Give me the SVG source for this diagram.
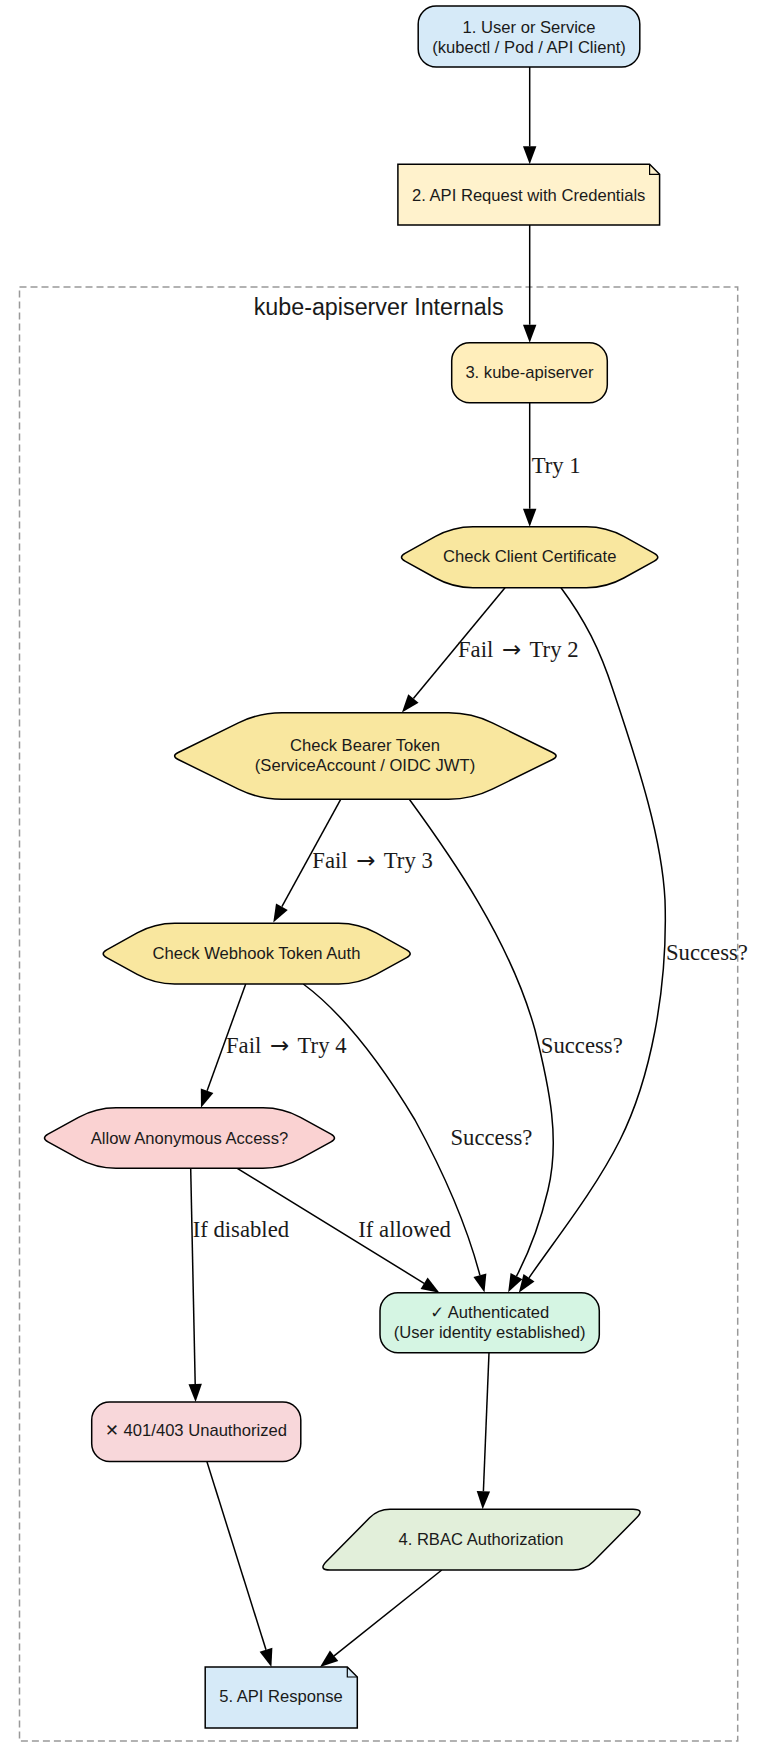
<svg xmlns="http://www.w3.org/2000/svg" width="758" height="1761" viewBox="0 0 758 1761">
<defs>
<marker id="ah" markerUnits="userSpaceOnUse" markerWidth="20" markerHeight="14" refX="0" refY="6.7" orient="auto" overflow="visible">
<path d="M0,0 L18,6.7 L0,13.4 Z" fill="#000"/>
</marker>
</defs>
<style>
.n{stroke:#000;stroke-width:1.5}
.t{font-family:"Liberation Sans","DejaVu Sans",Arial,sans-serif;font-size:16.6px;fill:#1a1a1a;text-anchor:middle}
.e{fill:none;stroke:#000;stroke-width:1.5;marker-end:url(#ah)}
.l{font-family:"Liberation Serif","DejaVu Serif","Times New Roman",serif;font-size:22.7px;fill:#1a1a1a}
.a{font-family:"DejaVu Sans",sans-serif;font-size:23px}
.c{fill:none;stroke:#999;stroke-width:1.5;stroke-dasharray:7,4}
</style>
<rect width="758" height="1761" fill="#fff"/>
<g id="cluster">
<rect class="c" x="19.5" y="287" width="718.2" height="1454"/>
<text x="378.6" y="315" style="font-family:'Liberation Sans','DejaVu Sans',Arial,sans-serif;font-size:23.3px;fill:#1a1a1a;text-anchor:middle">kube-apiserver Internals</text>
</g>
<g id="edges">
<path class="e" d="M529.7,67 L529.7,146.3"/>
<path class="e" d="M529.7,225 L529.7,324.7"/>
<path class="e" d="M529.7,402.7 L529.7,508.7"/>
<path class="e" d="M505,587.7 L413.4,698.6"/>
<path class="e" d="M340.7,799.3 L281.9,906.7"/>
<path class="e" d="M245.7,984 L207.1,1090.8"/>
<path class="e" d="M190.7,1168.3 L195.2,1384"/>
<path class="e" d="M237.3,1168.3 L424.1,1283.3"/>
<path class="e" d="M303.3,984 C345,1015 385,1070 415,1120 C445,1175 468,1230 479.9,1275.2"/>
<path class="e" d="M409.3,799.3 C450,855 510,940 535,1030 C550,1090 560,1140 548,1190 C538,1232 526,1258 516.5,1276.2"/>
<path class="e" d="M561,587.7 C585,620 600,650 613,690 C640,770 662,840 665,900 C668,990 650,1080 620,1140 C595,1190 555,1240 529,1277.8"/>
<path class="e" d="M489,1352.7 L483.4,1491.3"/>
<path class="e" d="M206.7,1461 L266,1649.8"/>
<path class="e" d="M441.8,1570 L334.1,1655.8"/>
<text class="l" x="531.7" y="472.7">Try 1</text>
<text class="l" x="458" y="657.3">Fail <tspan class="a" dx="3">→</tspan><tspan dx="3"> Try 2</tspan></text>
<text class="l" x="312.3" y="868.3">Fail <tspan class="a" dx="3">→</tspan><tspan dx="3"> Try 3</tspan></text>
<text class="l" x="226" y="1052.7">Fail <tspan class="a" dx="3">→</tspan><tspan dx="3"> Try 4</tspan></text>
<text class="l" x="192.7" y="1236.7">If disabled</text>
<text class="l" x="358.3" y="1236.7">If allowed</text>
<text class="l" x="450.5" y="1145">Success?</text>
<text class="l" x="540.8" y="1053">Success?</text>
<text class="l" x="666" y="960">Success?</text>
</g>
<g id="n1">
<rect class="n" x="418.2" y="6" width="221.6" height="61" rx="18" fill="#d6eaf8"/>
<text class="t" x="529" y="32.7">1. User or Service</text>
<text class="t" x="529" y="52.5">(kubectl / Pod / API Client)</text>
</g>
<g id="n2">
<path class="n" d="M397.9,164.3 H649.6 L659.6,174.3 V225 H397.9 Z" fill="#fff2cc"/>
<path d="M649.6,164.3 V174.3 H659.6" fill="none" stroke="#000" stroke-width="1.2"/>
<text class="t" x="528.7" y="200.5">2. API Request with Credentials</text>
</g>
<g id="n3">
<rect class="n" x="451.7" y="342.7" width="155.6" height="60" rx="18" fill="#ffeebb"/>
<text class="t" x="529.5" y="378.3">3. kube-apiserver</text>
</g>
<g id="client">
<path class="n" fill="#f9e79f" d="M405,553.3 L435.5,536.4 Q453,526.7 473,526.7 L586.3,526.7 Q606.3,526.7 623.8,536.4 L654.3,553.3 Q661.3,557.2 654.3,561.1 L623.8,578 Q606.3,587.7 586.3,587.7 L473,587.7 Q453,587.7 435.5,578 L405,561.1 Q398,557.2 405,553.3 Z"/>
<text class="t" x="529.7" y="561.7">Check Client Certificate</text>
</g>
<g id="bearer">
<path class="n" fill="#f9e79f" d="M178.2,752.5 L238.4,722.8 Q259,712.7 282,712.7 L448.7,712.7 Q471.7,712.7 492.3,722.8 L552.5,752.5 Q559.7,756 552.5,759.5 L492.3,789.2 Q471.7,799.3 448.7,799.3 L282,799.3 Q259,799.3 238.4,789.2 L178.2,759.5 Q171,756 178.2,752.5 Z"/>
<text class="t" x="365" y="751">Check Bearer Token</text>
<text class="t" x="365" y="771">(ServiceAccount / OIDC JWT)</text>
</g>
<g id="webhook">
<path class="n" fill="#f9e79f" d="M106.7,949.8 L137.2,932.9 Q154.7,923.3 174.7,923.3 L338.7,923.3 Q358.7,923.3 376.2,932.9 L406.7,949.8 Q413.7,953.7 406.7,957.6 L376.2,974.4 Q358.7,984 338.7,984 L174.7,984 Q154.7,984 137.2,974.4 L106.7,957.6 Q99.7,953.7 106.7,949.8 Z"/>
<text class="t" x="256.5" y="959">Check Webhook Token Auth</text>
</g>
<g id="anon">
<path class="n" fill="#fad2d2" d="M48,1134.1 L78.5,1117.3 Q96,1107.7 116,1107.7 L263,1107.7 Q283,1107.7 300.5,1117.3 L331,1134.1 Q338,1138 331,1141.9 L300.5,1158.7 Q283,1168.3 263,1168.3 L116,1168.3 Q96,1168.3 78.5,1158.7 L48,1141.9 Q41,1138 48,1134.1 Z"/>
<text class="t" x="189.5" y="1143.5">Allow Anonymous Access?</text>
</g>
<g id="auth">
<rect class="n" x="380" y="1292.7" width="219.3" height="60" rx="18" fill="#d5f5e3"/>
<text class="t" x="489.7" y="1317.5">✓ Authenticated</text>
<text class="t" x="489.7" y="1337.8">(User identity established)</text>
</g>
<g id="unauth">
<rect class="n" x="91.7" y="1402" width="209.1" height="59.5" rx="18" fill="#f8d7da"/>
<text class="t" x="196" y="1436">✕ 401/403 Unauthorized</text>
</g>
<g id="rbac">
<path class="n" fill="#e2efda" d="M390,1509.3 L633,1509.3 Q645,1509.3 636.6,1517.8 L593.4,1561.5 Q585,1570 573,1570 L330,1570 Q318,1570 326.4,1561.5 L369.6,1517.8 Q378,1509.3 390,1509.3 Z"/>
<text class="t" x="481" y="1545">4. RBAC Authorization</text>
</g>
<g id="resp">
<path class="n" d="M205.2,1667 H347.3 L357.3,1677 V1728 H205.2 Z" fill="#d6eaf8"/>
<path d="M347.3,1667 V1677 H357.3" fill="none" stroke="#000" stroke-width="1.2"/>
<text class="t" x="281" y="1702.3">5. API Response</text>
</g>
</svg>
